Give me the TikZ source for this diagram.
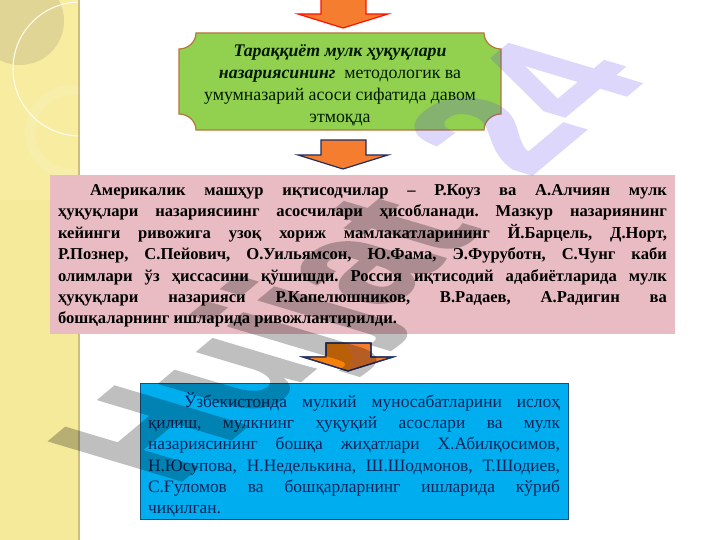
\documentclass[tikz,border=0pt]{standalone}
\usepackage{fontspec}
\setmainfont{Liberation Serif}
\newfontfamily\wmfont[FakeBold=1.5]{Liberation Sans}
\definecolor{bandY}{HTML}{F5E99A}
\definecolor{bandL}{HTML}{F7ECA0}
\definecolor{bandS}{HTML}{CDBE80}
\definecolor{pinkbox}{HTML}{E8BCC2}
\definecolor{bluebox}{HTML}{00AEEF}
\definecolor{blueline}{HTML}{14507F}
\definecolor{bluetextc}{HTML}{06245A}
\definecolor{greenbox}{HTML}{92D050}
\definecolor{brownline}{HTML}{B5763A}
\definecolor{orangefill}{HTML}{F47D30}
\definecolor{navyline}{HTML}{1F2F60}
\definecolor{wmpurple}{HTML}{553CEB}
\tikzset{
  arrowshape/.style={fill=orangefill,line width=1.2pt,line join=miter},
  bodytext/.style={inner sep=0pt,outer sep=0pt,anchor=north west,align=justify},
  wmtext/.style={transform shape,inner sep=0pt,anchor=base west,font=\wmfont\bfseries\fontsize{100}{100}\selectfont},
}
\newcommand{\dnarrow}[5]{%
  \draw[arrowshape,draw=#5] (#1-22,#2) -- (#1+23,#2) -- (#1+23,#2+#3) -- (#1+45,#2+#3)
    -- (#1,#2+#3+#4) -- (#1-45,#2+#3) -- (#1-22,#2+#3) -- cycle;}
\frenchspacing
\begin{document}
\begin{tikzpicture}[x=1pt,y=-1pt]
\useasboundingbox (0,0) rectangle (720,540);
\fill[white] (0,0) rectangle (720,540);
% left band
\fill[bandS] (0,0) rectangle (80,540);
\fill[bandY] (0,0) rectangle (78,540);
\fill[bandL] (0,0) rectangle (78,200);
\begin{scope}
\clip (0,0) rectangle (78,540);
\fill[bandS!70!gray,opacity=.35] (20,21) circle (44);
\draw[white!80!bandL,line width=1.1pt] (80,69) circle (67);
\draw[white,opacity=.12,line width=10pt] (72,132) circle (42);
\end{scope}
% arrows
\dnarrow{343}{-2}{16}{14}{red!85!orange}
\dnarrow{343}{140}{15}{14}{navyline}
\dnarrow{348}{343}{14}{14}{navyline}
\fill[orange!85!brown] (327,344) -- (345,344) -- (352,356) -- (348,370) -- (310,357) -- (327,356) -- cycle;
\draw[navyline,line width=1.2pt,line join=miter] (326,343) -- (371,343) -- (371,357) -- (393,357) -- (348,371) -- (303,357) -- (326,357) -- cycle;
% green plaque
\draw[fill=greenbox,draw=brownline,line width=1.2pt]
  (196,33) -- (484,33) .. controls (484,42) and (492,49) .. (501,49) -- (501,114)
  .. controls (492,114) and (484,121) .. (484,130) -- (196,130)
  .. controls (196,121) and (188,114) .. (179,114) -- (179,49)
  .. controls (188,49) and (196,42) .. (196,33) -- cycle;
\node[inner sep=0pt,align=center,font=\fontsize{17.8}{22}\selectfont,text=black!90!green] (plaque) at (340,85)
 {\textbf{\textit{Тараққиёт мулк ҳуқуқлари}}\\ \textbf{\textit{назариясининг}}\ \ методологик ва\\ умумназарий асоси сифатида давом\\ этмоқда};
% pink box
\fill[pinkbox] (50,175) rectangle (675,334);
\node[bodytext,text width=609pt,font=\fontsize{16.6}{21.4}\selectfont\bfseries] (pinktext) at (58,184.5) {%
\leavevmode\hspace*{32pt}Америкалик машҳур иқтисодчилар – Р.Коуз ва А.Алчиян мулк\linebreak
ҳуқуқлари назариясиинг асосчилари ҳисобланади. Мазкур назариянинг\linebreak
кейинги ривожига узоқ хориж мамлакатларининг Й.Барцель, Д.Норт,\linebreak
Р.Познер, С.Пейович, О.Уильямсон, Ю.Фама, Э.Фуруботн, С.Чунг каби\linebreak
олимлари ўз ҳиссасини қўшишди. Россия иқтисодий адабиётларида мулк\linebreak
ҳуқуқлари назарияси Р.Капелюшников, В.Радаев, А.Радигин ва\linebreak
бошқаларнинг ишларида ривожлантирилди.};
% blue box
\draw[fill=bluebox,draw=blueline,line width=.7pt] (140.5,383.5) rectangle (568,519.5);
\node[bodytext,text width=412pt,font=\fontsize{17.4}{21.3}\selectfont,text=bluetextc] (bluetext) at (148,392.5) {%
\leavevmode\hspace*{36pt}Ўзбекистонда мулкий муносабатларини ислоҳ\linebreak
қилиш, мулкнинг ҳуқуқий асослари ва мулк\linebreak
назариясининг бошқа жиҳатлари Х.Абилқосимов,\linebreak
Н.Юсупова, Н.Неделькина, Ш.Шодмонов, Т.Шодиев,\linebreak
С.Ғуломов ва бошқарларнинг ишларида кўриб\linebreak
чиқилган.};
% watermark
\begin{scope}[transparency group,opacity=.25]
\begin{scope}[cm={1.11,.93,-1.916,.574,(174,487)}]
\node[wmtext,text=black] (wm) at (0,0) {Hujjat};
\end{scope}
\end{scope}
\begin{scope}[transparency group,opacity=.2]
\begin{scope}[cm={1.11,.93,-1.916,.574,(528,178)}]
\node[wmtext,text=wmpurple] (wmb) at (0,0) {24};
\end{scope}
\end{scope}
\end{tikzpicture}
\end{document}
